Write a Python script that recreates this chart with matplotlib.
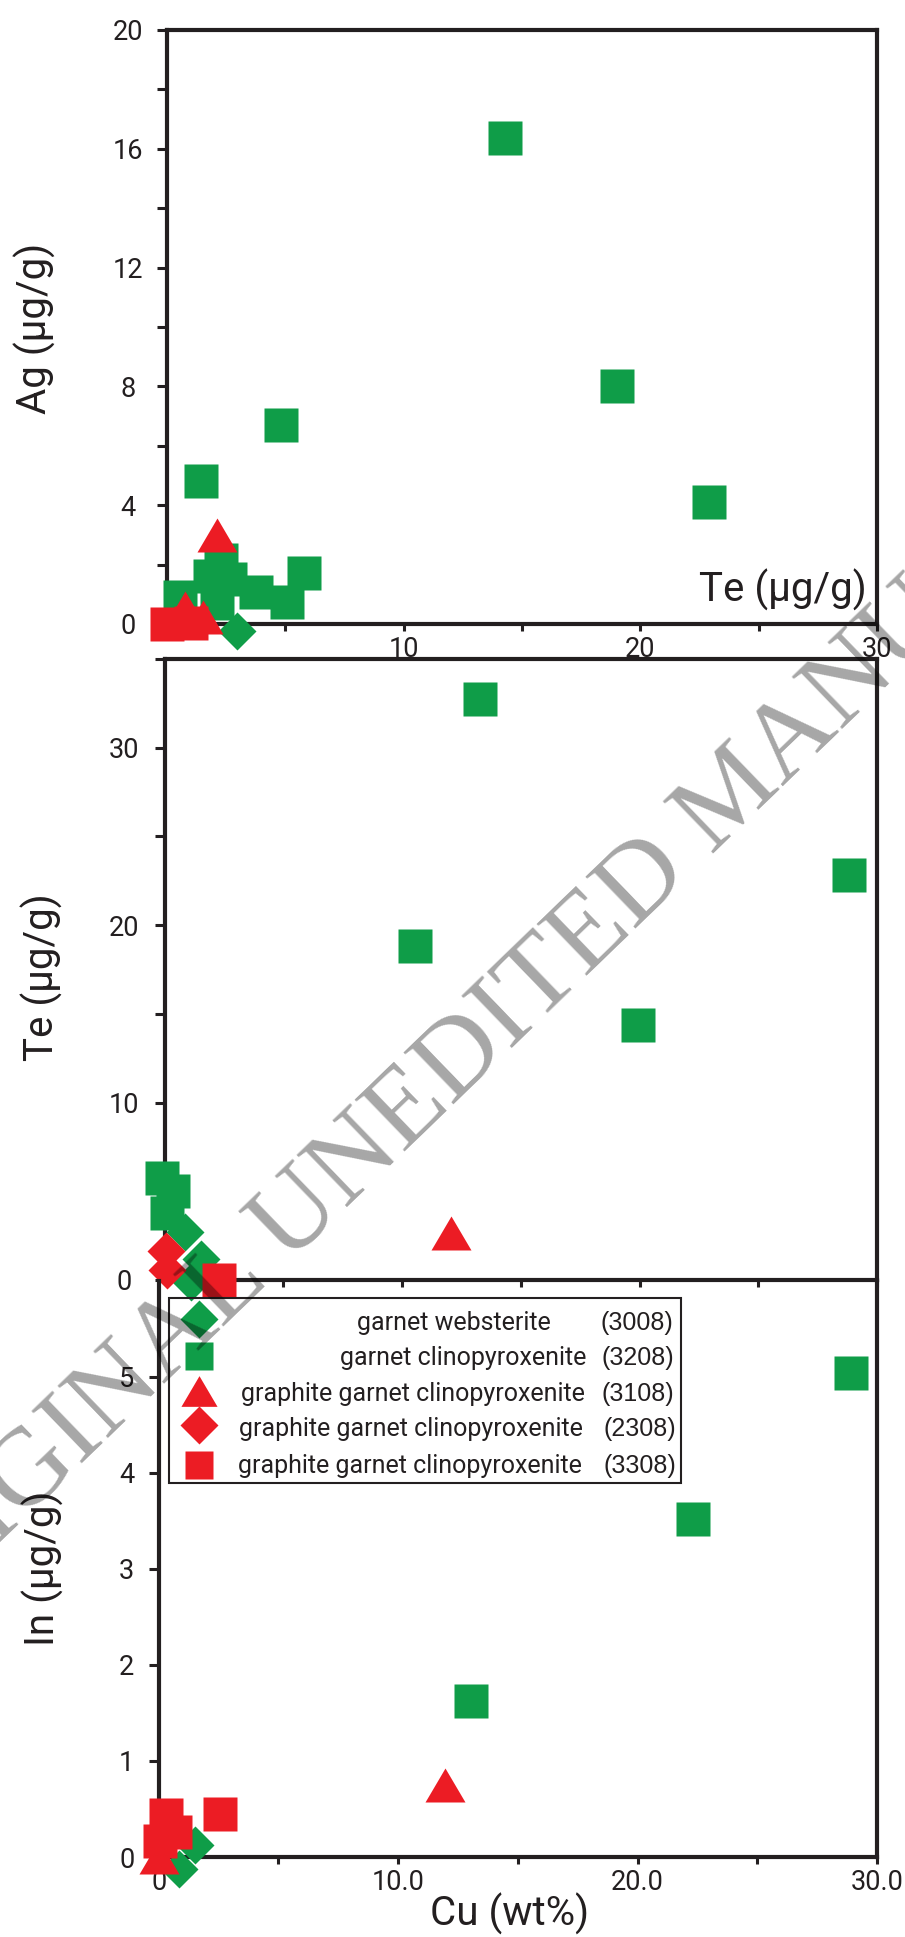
import matplotlib
matplotlib.use("Agg")
import matplotlib.pyplot as plt
from matplotlib.patches import Rectangle

plt.rcParams['font.family'] = ['Roboto', 'DejaVu Sans']

W, H = 905, 1937
GREEN = "#0f9d48"
RED = "#ec1c24"
INK = "#231f20"
TRI = [(-1, -0.85), (1, -0.85), (0, 0.85)]   # wide triangle marker

# ---- panel 1: Ag vs Te (ug/g)
p1_ws_te = [2.95]
p1_ws_ag = [-0.25]
p1_cpx_te = [14.3, 19.0, 22.9, 4.8, 1.45, 5.8, 5.05, 3.75, 2.3, 1.8, 2.65, 0.55, 2.1]
p1_cpx_ag = [16.35, 8.0, 4.1, 6.7, 4.8, 1.72, 0.75, 1.07, 2.15, 1.6, 1.5, 0.9, 0.7]
p1_g3108_te = [2.1, 0.75, 1.5]
p1_g3108_ag = [3.0, 0.53, 0.23]
p1_g3308_te = [0.0, 1.0]
p1_g3308_ag = [0.0, 0.05]

# ---- panel 2: Te (ug/g) vs Cu (wt%)
p2_ws_cu = [0.85, 1.55, 1.1]
p2_ws_te = [2.7, 1.2, -0.1]
p2_cpx_cu = [13.3, 28.8, 10.55, 19.95, -0.1, 0.35, 0.1]
p2_cpx_te = [32.75, 22.85, 18.8, 14.4, 5.75, 5.0, 3.8]
p2_g3108_cu = [12.05]
p2_g3108_te = [2.65]
p2_g2308_cu = [0.05, 0.1]
p2_g2308_te = [1.65, 0.55]
p2_g3308_cu = [2.3]
p2_g3308_te = [0.0]

# ---- panel 3: In (ug/g) vs Cu (wt%)
p3_ws_cu = [1.5, 0.85]
p3_ws_in = [0.13, -0.13]
p3_cpx_cu = [28.9, 22.3, 13.05]
p3_cpx_in = [5.04, 3.52, 1.62]
p3_g3108_cu = [11.95, 0.0]
p3_g3108_in = [0.75, 0.0]
p3_g3308_cu = [2.55, 0.3, 0.7, 0.05]
p3_g3308_in = [0.45, 0.44, 0.26, 0.17]

leg_names = ['garnet websterite', 'garnet clinopyroxenite',
             'graphite garnet clinopyroxenite', 'graphite garnet clinopyroxenite',
             'graphite garnet clinopyroxenite']
leg_codes = ['(3008)', '(3208)', '(3108)', '(2308)', '(3308)']


def axes_px(fig, l, r, t, b):
    return fig.add_axes([l / W, 1 - b / H, (r - l) / W, (b - t) / H])


def frame(ax, xlim, ylim, ypad):
    ax.set_xlim(*xlim)
    ax.set_ylim(*ylim)
    ax.set_facecolor("none")
    for s in ax.spines.values():
        s.set_linewidth(3)
        s.set_color(INK)
    ax.tick_params(which="both", direction="out", color=INK, width=2.2,
                   labelcolor=INK, labelsize=19.5)
    ax.tick_params(axis="x", which="both", length=5, pad=3.5)
    ax.tick_params(axis="y", which="both", length=7, pad=ypad)


def pts(ax, x, y, marker, color, size):
    ax.plot(x, y, ls="none", marker=marker, ms=size, mfc=color, mec="none",
            clip_on=False, zorder=5)


def ylab(ax, text, x, y):
    ax.set_ylabel(text, fontsize=29, color=INK, va="center")
    ax.yaxis.set_label_coords(x, y)


fig = plt.figure(figsize=(W / 100, H / 100), dpi=100)

# panel 1
ax1 = axes_px(fig, 167, 877, 30, 624)
frame(ax1, (0, 30), (0, 20), 21)
ax1.set_xticks([10, 20, 30], ['10', '20', '30'])
ax1.set_xticks([5, 15, 25], minor=True)
ax1.set_yticks(range(0, 21, 4), [str(v) for v in range(0, 21, 4)], ha="center")
ax1.set_yticks(range(2, 20, 4), minor=True)
pts(ax1, p1_ws_te, p1_ws_ag, "D", GREEN, 19.8)
pts(ax1, p1_cpx_te, p1_cpx_ag, "s", GREEN, 23.8)
pts(ax1, p1_g3108_te, p1_g3108_ag, TRI, RED, 28.8)
pts(ax1, p1_g3308_te, p1_g3308_ag, "s", RED, 23.8)
ylab(ax1, "Ag (\u03bcg/g)", -0.186, 0.498)
ax1.set_xlabel("Te (\u03bcg/g)", fontsize=29, color=INK, ha="right", va="center")
ax1.xaxis.set_label_coords(0.985, 0.057)

# panel 2
ax2 = axes_px(fig, 164.5, 877, 659, 1280)
frame(ax2, (0, 30), (0, 35), 22)
ax2.set_xticks(range(5, 31, 5))
ax2.tick_params(axis="x", labelbottom=False)
ax2.set_yticks([0, 10, 20, 30], ['0', '10', '20', '30'], ha="center")
ax2.set_yticks([5, 15, 25, 35], minor=True)
pts(ax2, p2_ws_cu, p2_ws_te, "D", GREEN, 19.8)
pts(ax2, p2_cpx_cu, p2_cpx_te, "s", GREEN, 23.8)
pts(ax2, p2_g3108_cu, p2_g3108_te, TRI, RED, 28.8)
pts(ax2, p2_g2308_cu, p2_g2308_te, "D", RED, 19.8)
pts(ax2, p2_g3308_cu, p2_g3308_te, "s", RED, 23.8)
ylab(ax2, "Te (\u03bcg/g)", -0.172, 0.488)

# panel 3
ax3 = axes_px(fig, 158.7, 877, 1280.6, 1857)
frame(ax3, (0, 30), (0, 6), 16)
ax3.spines["top"].set_visible(False)
ax3.set_xticks([0, 10, 20, 30], ['0', '10.0', '20.0', '30.0'])
ax3.set_xticks([5, 15, 25], minor=True)
ax3.set_yticks(range(0, 6), [str(v) for v in range(0, 6)], ha="center")
pts(ax3, p3_ws_cu, p3_ws_in, "D", GREEN, 19.8)
pts(ax3, p3_cpx_cu, p3_cpx_in, "s", GREEN, 23.8)
pts(ax3, p3_g3108_cu, p3_g3108_in, TRI, RED, 28.8)
pts(ax3, p3_g3308_cu, p3_g3308_in, "s", RED, 23.8)
ylab(ax3, "In (\u03bcg/g)", -0.161, 0.501)
ax3.set_xlabel("Cu (wt%)", fontsize=29, color=INK, va="center")
ax3.xaxis.set_label_coords(0.489, -0.099)

# legend drawn by hand so the sample codes form their own column
ax3.add_patch(Rectangle((0.0143, 0.6494), 0.7127, 0.3211, transform=ax3.transAxes,
                        fill=False, lw=1.5, ec=INK, zorder=6, clip_on=False))
leg_marks = [("D", GREEN, 19.3), ("s", GREEN, 20.7), (TRI, RED, 26),
             ("D", RED, 19.3), ("s", RED, 20.7)]
leg_mark_y = [0.9334, 0.8688, 0.8079, 0.7488, 0.6805]
leg_text_y = [0.926, 0.865, 0.804, 0.742, 0.679]
leg_name_x = [0.5457, 0.5958, 0.5935, 0.5911, 0.5889]
leg_code_x = [0.6144, 0.6167, 0.6167, 0.619, 0.619]
for i, (m, c, s) in enumerate(leg_marks):
    ax3.plot([0.0561], [leg_mark_y[i]], ls="none", marker=m, ms=s, mfc=c, mec="none",
             transform=ax3.transAxes, clip_on=False, zorder=7)
    ax3.text(leg_name_x[i], leg_text_y[i], leg_names[i], transform=ax3.transAxes,
             ha="right", va="center", fontsize=18, color=INK, zorder=7)
    ax3.text(leg_code_x[i], leg_text_y[i], leg_codes[i], transform=ax3.transAxes,
             ha="left", va="center", fontsize=18, color=INK,
             family=["Liberation Sans", "DejaVu Sans"], zorder=7)

# watermark
fig.text(537 / W, 1 - 987 / H, "ORIGINAL UNEDITED MANUSCRIPT", rotation=44,
         rotation_mode="anchor", ha="center", va="center", fontsize=80,
         family=["Liberation Serif", "DejaVu Serif"], color="black", alpha=0.35,
         zorder=10)

fig.savefig("out.png", dpi=100)
